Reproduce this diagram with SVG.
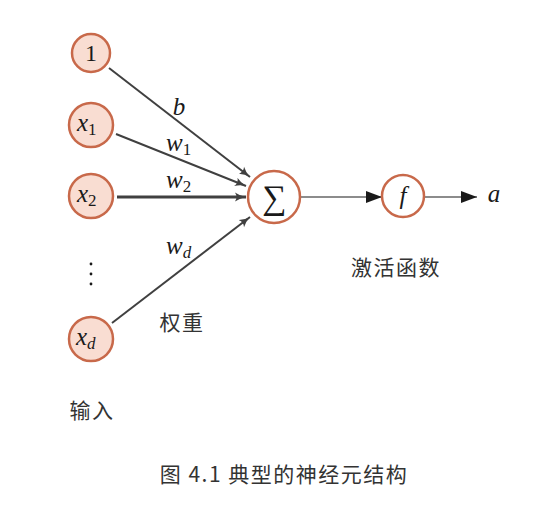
<svg xmlns="http://www.w3.org/2000/svg" width="558" height="509" viewBox="0 0 558 509">
<defs>
<marker id="gh" viewBox="0 0 12 10" refX="11" refY="5" markerWidth="12" markerHeight="10" markerUnits="userSpaceOnUse" orient="auto">
<path d="M0,0.5 Q5,4 11,5 Q5,6 0,9.5 Q3,5 0,0.5 Z" fill="#404040"/>
</marker>
<marker id="bh" viewBox="0 0 16 12" refX="16" refY="6" markerWidth="16" markerHeight="12" markerUnits="userSpaceOnUse" orient="auto">
<path d="M0,0 L16,6 L0,12 Z" fill="#1a1a1a"/>
</marker>
</defs>
<style>
.in{fill:#f9ddd2;stroke:#c8694a;stroke-width:2.5}
.op{fill:#ffffff;stroke:#c8694a;stroke-width:2.5}
.m{font-family:"Liberation Serif","DejaVu Serif",serif;font-style:italic;fill:#1a1a1a;font-size:25px}
.s{font-family:"Liberation Serif","DejaVu Serif",serif;font-size:17px}
.r{font-family:"Liberation Serif","DejaVu Serif",serif;fill:#1a1a1a}
.cj{font-family:"Noto Sans CJK SC",sans-serif;fill:#333;font-size:21px;letter-spacing:1.5px}
.e{stroke:#404040;stroke-width:2;fill:none;marker-end:url(#gh)}
.k{stroke:#1a1a1a;stroke-width:1.2;fill:none;marker-end:url(#bh)}
</style>
<rect width="558" height="509" fill="#ffffff"/>
<g id="connectors">
<path class="e" d="M109,68 L250,177"/>
<path class="e" d="M116,134 L246,186"/>
<path class="e" d="M117,197 L246,197" style="stroke-width:3"/>
<path class="e" d="M112,323 L250,217"/>
<path class="k" d="M301,197 L382,197"/>
<path class="k" d="M425,197 L477,197"/>
</g>
<g id="edge-labels">
<text class="m" x="179" y="115" text-anchor="middle">b</text>
<text class="m" x="166" y="151">w<tspan class="s" font-style="normal" dy="4">1</tspan></text>
<text class="m" x="166" y="188">w<tspan class="s" font-style="normal" dy="4">2</tspan></text>
<text class="m" x="166" y="254">w<tspan class="s" font-style="italic" dy="4">d</tspan></text>
</g>
<g id="node-1">
<circle class="in" cx="91" cy="53" r="19"/>
<text class="r" x="91" y="61" font-size="24" text-anchor="middle">1</text>
</g>
<g id="node-x1">
<circle class="in" cx="91" cy="125" r="22"/>
<text class="m" x="77" y="131">x<tspan class="s" font-style="normal" dy="4">1</tspan></text>
</g>
<g id="node-x2">
<circle class="in" cx="91" cy="196" r="22"/>
<text class="m" x="77" y="202">x<tspan class="s" font-style="normal" dy="4">2</tspan></text>
</g>
<g id="dots">
<circle cx="91" cy="264" r="1.4" fill="#1a1a1a"/>
<circle cx="91" cy="274" r="1.4" fill="#1a1a1a"/>
<circle cx="91" cy="284" r="1.4" fill="#1a1a1a"/>
</g>
<g id="node-xd">
<circle class="in" cx="91" cy="339" r="22"/>
<text class="m" x="76" y="345">x<tspan class="s" font-style="italic" dy="4">d</tspan></text>
</g>
<g id="node-sum">
<circle class="op" cx="274" cy="197" r="26"/>
<text class="r" x="274" y="209" font-size="34" text-anchor="middle">∑</text>
</g>
<g id="node-f">
<circle class="op" cx="403" cy="196" r="21"/>
<text class="m" x="403" y="204" text-anchor="middle">f</text>
</g>
<g id="output">
<text class="m" x="494" y="202" text-anchor="middle">a</text>
</g>
<g id="labels">
<text class="cj" x="182" y="330" text-anchor="middle">权重</text>
<text class="cj" x="396" y="275" text-anchor="middle">激活函数</text>
<text class="cj" x="92" y="418" text-anchor="middle">输入</text>
<text class="cj" x="284" y="482" text-anchor="middle" word-spacing="0">图 4.1 典型的神经元结构</text>
</g>
</svg>
